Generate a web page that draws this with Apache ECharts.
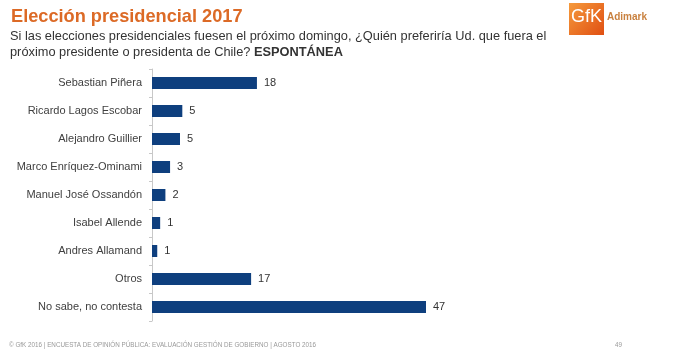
<!DOCTYPE html>
<html>
<head>
<meta charset="utf-8">
<script src="https://cdn.jsdelivr.net/npm/echarts@6/dist/echarts.min.js"></script>
<style>
html, body { margin: 0; padding: 0; background: #fff; }
#chart { width: 700px; height: 353px; }
</style>
</head>
<body>
<div id="chart"></div>
<script>
// categories top to bottom
const candidatos = [
    'Sebastian Piñera',
    'Ricardo Lagos Escobar',
    'Alejandro Guillier',
    'Marco Enríquez-Ominami',
    'Manuel José Ossandón',
    'Isabel Allende',
    'Andres Allamand',
    'Otros',
    'No sabe, no contesta'
];
// bar lengths (labels show rounded values)
const porcentajes = [18, 5.2, 4.8, 3.1, 2.3, 1.4, 0.9, 17, 47];

const myChart = echarts.init(document.getElementById('chart'));

const options = {
    animation: false,
    backgroundColor: '#fff',
    textStyle: { fontFamily: 'Liberation Sans, Arial, sans-serif' },
    title: {
        text: 'Elección presidencial 2017',
        left: 6,
        top: 3,
        padding: 5,
        textStyle: { color: '#DC6A26', fontSize: 18.2, fontWeight: 'bold', fontFamily: 'Liberation Sans' }
    },
    grid: {
        left: 152,
        right: 274,
        top: 69,
        bottom: 32,
        containLabel: false
    },
    xAxis: {
        type: 'value',
        min: 0,
        max: 47,
        show: false
    },
    yAxis: {
        type: 'category',
        inverse: true,
        data: candidatos,
        axisLine: { show: true, lineStyle: { color: '#c8c8c8' } },
        axisTick: { show: true, length: 3, lineStyle: { color: '#c8c8c8' } },
        axisLabel: { color: '#404040', fontSize: 11, margin: 10 },
        splitLine: { show: false }
    },
    series: [{
        type: 'bar',
        data: porcentajes,
        barWidth: 12,
        itemStyle: { color: '#0E3F7E' },
        label: {
            show: true,
            position: 'right',
            distance: 7,
            color: '#333',
            fontSize: 11,
            formatter: p => Math.round(p.value)
        }
    }],
    graphic: [
        {
            type: 'text',
            left: 10,
            top: 28,
            style: {
                text: 'Si las elecciones presidenciales fuesen el próximo domingo, ¿Quién preferiría Ud. que fuera el\n{p|próximo presidente o presidenta de Chile? }{b|ESPONTÁNEA}',
                fill: '#333',
                font: '12.8px Liberation Sans',
                lineHeight: 16,
                rich: {
                    p: { fill: '#333', font: '12.8px Liberation Sans' },
                    b: { fill: '#333', font: 'bold 12.8px Liberation Sans' }
                }
            }
        },
        {
            type: 'rect',
            left: 569,
            top: 3,
            shape: { width: 35, height: 32 },
            style: {
                fill: new echarts.graphic.LinearGradient(0, 0, 1, 1, [
                    { offset: 0, color: '#F59A3C' },
                    { offset: 1, color: '#E04F12' }
                ])
            }
        },
        {
            type: 'text',
            left: 571,
            top: 8,
            style: { text: 'GfK', fill: '#fff', font: '18px Liberation Sans Narrow, Liberation Sans' }
        },
        {
            type: 'text',
            left: 607,
            top: 12,
            style: { text: 'Adimark', fill: '#C9813F', font: 'bold 10px Liberation Sans' }
        },
        {
            type: 'text',
            left: 9,
            top: 342,
            style: {
                text: '© GfK 2016 | ENCUESTA DE OPINIÓN PÚBLICA: EVALUACIÓN GESTIÓN DE GOBIERNO | AGOSTO 2016',
                fill: '#999',
                font: '6.3px Liberation Sans'
            }
        },
        {
            type: 'text',
            left: 615,
            top: 342,
            style: { text: '49', fill: '#999', font: '6.3px Liberation Sans' }
        }
    ]
};

myChart.setOption(options);
</script>
</body>
</html>
